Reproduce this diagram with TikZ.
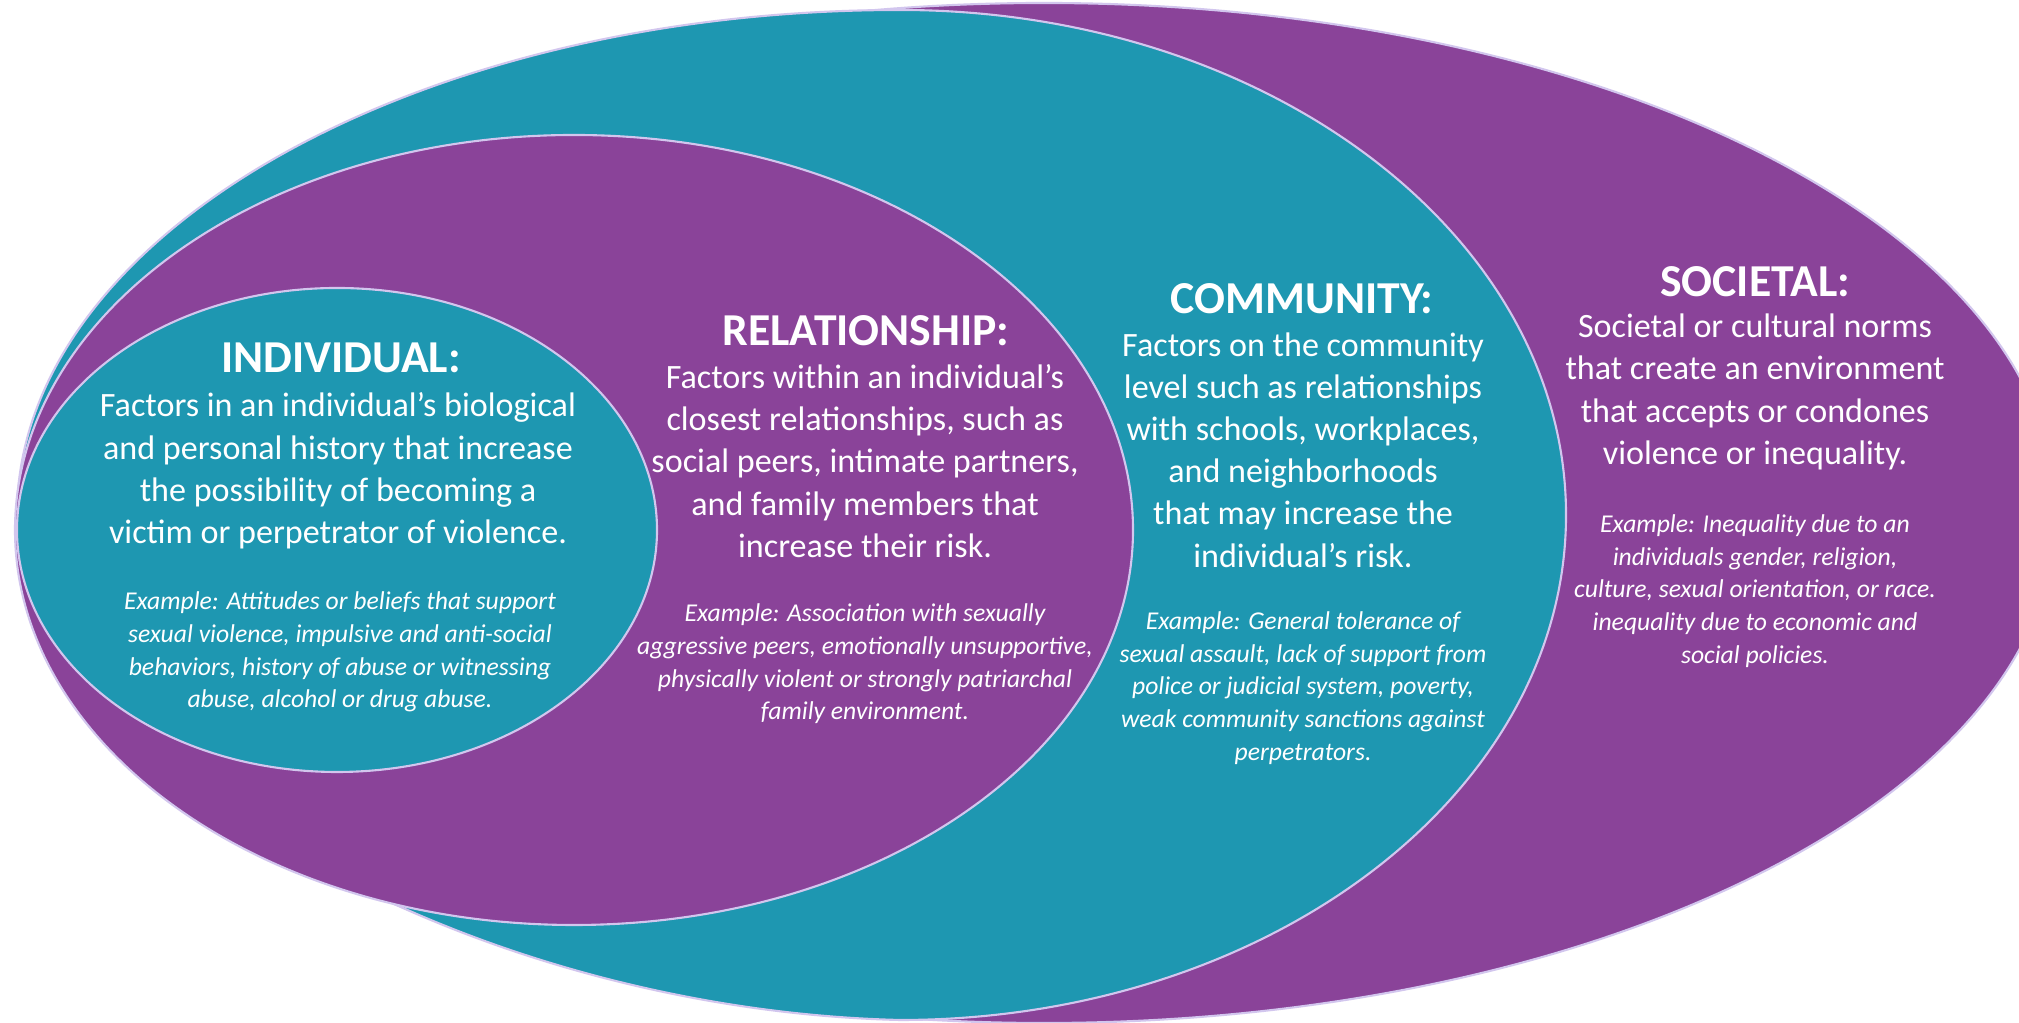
\documentclass[tikz,border=0pt]{standalone}
\usepackage{fontspec}
\setmainfont{Carlito}
\usepackage{tikz}

\definecolor{plum}{HTML}{8A4399}
\definecolor{sea}{HTML}{1E97B1}
\definecolor{rim}{HTML}{D2C6EE}

\begin{document}
\begin{tikzpicture}[
            ring/.style = {draw=rim,line width=0.6pt},
            head/.style = {inner sep=0pt,text=white,
                font=\bfseries\fontsize{13}{15}\selectfont},
            body/.style = {inner sep=0pt,text=white,align=center,
                font=\fontsize{9.7}{12}\selectfont},
            note/.style = {inner sep=0pt,text=white,align=center,
                font=\itshape\fontsize{7.3}{9.3}\selectfont}]
            \useasboundingbox (0,0) rectangle (20.19,10.23);
            \clip (0,0) rectangle (20.19,10.23);
            % rings, outside in
            \fill[white] (0,0) rectangle (20.19,10.23);
            \draw[ring,fill=plum] (10.44,5.10) ellipse (10.12 and 5.10);
            \draw[ring,fill=sea] (9.00,10.13)
                arc[start angle=90,end angle=-90,x radius=6.66,y radius=5.05]
                .. controls (4.80,0.13) and (0.50,2.43) .. (0.17,5.08)
                arc[start angle=180,end angle=90,x radius=8.83,y radius=5.05]
                -- cycle;
            \draw[ring,fill=plum] (5.74,4.93) ellipse (5.59 and 3.95);
            \draw[ring,fill=sea] (3.37,4.93) ellipse (3.20 and 2.42);
            % individual
            \node[head] (h1) at (3.41,6.65) {INDIVIDUAL:};
            \node[body] (t1) at (3.38,5.52) {
                Factors in an individual’s biological\\
                and personal history that increase\\
                the possibility of becoming a\\
                victim or perpetrator of violence.
            };
            \node[note] (e1) at (3.40,3.71) {
                Example: Attitudes or beliefs that support\\
                sexual violence, impulsive and anti-social\\
                behaviors, history of abuse or witnessing\\
                abuse, alcohol or drug abuse.
            };
            % relationship
            \node[head] (h2) at (8.66,6.92) {RELATIONSHIP:};
            \node[body] (t2) at (8.65,5.62) {
                Factors within an individual’s\\
                closest relationships, such as\\
                social peers, intimate partners,\\
                and family members that\\
                increase their risk.
            };
            \node[note] (e2) at (8.65,3.59) {
                Example: Association with sexually\\
                aggressive peers, emotionally unsupportive,\\
                physically violent or strongly patriarchal\\
                family environment.
            };
            % community
            \node[head] (h3) at (13.02,7.24) {COMMUNITY:};
            \node[body] (t3) at (13.03,5.73) {
                Factors on the community\\
                level such as relationships\\
                with schools, workplaces,\\
                and neighborhoods\\
                that may increase the\\
                individual’s risk.
            };
            \node[note] (e3) at (13.03,3.35) {
                Example: General tolerance of\\
                sexual assault, lack of support from\\
                police or judicial system, poverty,\\
                weak community sanctions against\\
                perpetrators.
            };
            % societal
            \node[head] (h4) at (17.55,7.41) {SOCIETAL:};
            \node[body] (t4) at (17.55,6.31) {
                Societal or cultural norms\\
                that create an environment\\
                that accepts or condones\\
                violence or inequality.
            };
            \node[note] (e4) at (17.55,4.32) {
                Example: Inequality due to an\\
                individuals gender, religion,\\
                culture, sexual orientation, or race.\\
                inequality due to economic and\\
                social policies.
            };
        \end{tikzpicture}
\end{document}
